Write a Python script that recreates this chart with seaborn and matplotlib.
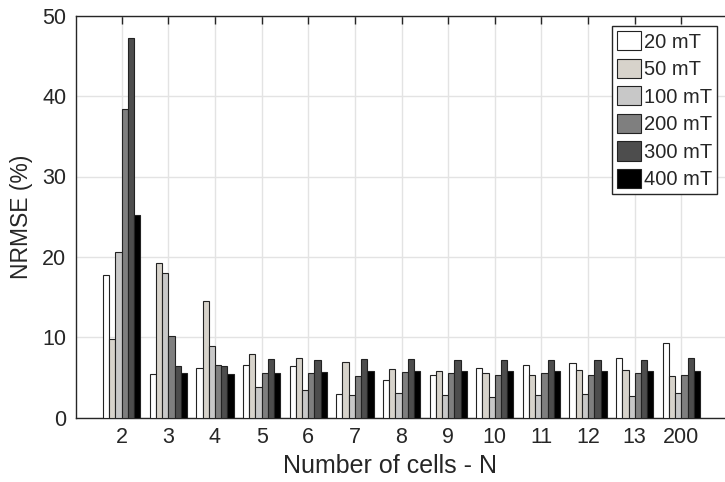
import numpy as np
import pandas as pd
import matplotlib
matplotlib.use("Agg")
import matplotlib.pyplot as plt
import seaborn as sns

# ── data ──────────────────────────────────────────────────────────────────────
CELLS  = ["2", "3", "4", "5", "6", "7", "8", "9", "10", "11", "12", "13", "200"]
FIELDS = ["20 mT", "50 mT", "100 mT", "200 mT", "300 mT", "400 mT"]

nrmse_20  = [17.8, 5.4, 6.2, 6.55, 6.45, 3.0, 4.7, 5.25, 6.2, 6.55, 6.85, 7.4, 9.3]
nrmse_50  = [9.75, 19.2, 14.5, 7.95, 7.4, 6.9, 6.05, 5.85, 5.55, 5.3, 5.95, 5.9, 5.2]
nrmse_100 = [20.6, 18.0, 8.95, 3.85, 3.5, 2.85, 3.05, 2.8, 2.6, 2.85, 2.9, 2.7, 3.1]
nrmse_200 = [38.4, 10.1, 6.6, 5.6, 5.6, 5.2, 5.65, 5.5, 5.35, 5.55, 5.35, 5.55, 5.35]
nrmse_300 = [47.2, 6.4, 6.45, 7.25, 7.15, 7.35, 7.25, 7.2, 7.15, 7.2, 7.2, 7.15, 7.4]
nrmse_400 = [25.2, 5.5, 5.4, 5.5, 5.65, 5.8, 5.8, 5.8, 5.8, 5.8, 5.8, 5.8, 5.8]

Y_TICKS = [0, 10, 20, 30, 40, 50]

# ── style ─────────────────────────────────────────────────────────────────────
COLORS    = ["#ffffff", "#d7d3cb", "#c8c8c8", "#7f7f7f", "#4d4d4d", "#000000"]
AXIS_COL  = "#262626"
GRID_COL  = "#e3e3e3"

sns.set_style("white")
plt.rcParams["font.family"] = ["Liberation Sans", "DejaVu Sans"]

series = [nrmse_20, nrmse_50, nrmse_100, nrmse_200, nrmse_300, nrmse_400]
df = pd.DataFrame({
    "cells": np.tile(CELLS, len(FIELDS)),
    "field": np.repeat(FIELDS, len(CELLS)),
    "nrmse": np.concatenate(series),
})

# axes run slightly past the right edge (the reference is cropped there)
W, H = 725, 482
left, right, top, bottom = 76, 728, 15.7, 417.7
fig = plt.figure(figsize=(W / 100, H / 100), dpi=100)
ax = fig.add_axes([left / W, 1 - bottom / H, (right - left) / W, (bottom - top) / H])

sns.barplot(data=df, x="cells", y="nrmse", hue="field", order=CELLS,
            hue_order=FIELDS, palette=COLORS, errorbar=None, width=0.8,
            edgecolor="#222222", linewidth=0.8, saturation=1, ax=ax, zorder=3)

ax.set_xlim(-0.98, 13.0)
ax.set_ylim(0, 50)
ax.set_yticks(Y_TICKS)
ax.set_axisbelow(True)
ax.grid(True, color=GRID_COL, linewidth=1.0, zorder=0)

for s in ax.spines.values():
    s.set_visible(True)
    s.set_color(AXIS_COL)
    s.set_linewidth(1.0)
ax.spines["right"].set_visible(False)
ax.tick_params(axis="both", direction="in", length=6, width=1, color=AXIS_COL,
               labelsize=15.5, labelcolor="#262626", top=True, right=False)
ax.tick_params(axis="x", pad=7)
ax.tick_params(axis="y", pad=7)

aw, ah = right - left, bottom - top
ax.set_xlabel("Number of cells - N", fontsize=18, color="#262626")
ax.set_ylabel("NRMSE (%)", fontsize=16.5, color="#262626")
ax.xaxis.set_label_coords((390 - left) / aw, -(454 - bottom) / ah)
ax.yaxis.set_label_coords(-(left - 33) / aw, 0.5)

handles, labels = ax.get_legend_handles_labels()
ax.get_legend().remove()
leg = fig.legend(handles, labels, loc="upper left",
                 bbox_to_anchor=(611.7 / W, 1 - 26 / H),
                 bbox_transform=fig.transFigure, borderaxespad=0,
                 fontsize=14.5, frameon=True, fancybox=False,
                 edgecolor="#262626", framealpha=1, handlelength=1.2,
                 handleheight=1.1, handletextpad=0.15, labelspacing=0.35,
                 borderpad=0.25)
leg.get_frame().set_linewidth(1.0)

fig.savefig("out.png", dpi=100)
